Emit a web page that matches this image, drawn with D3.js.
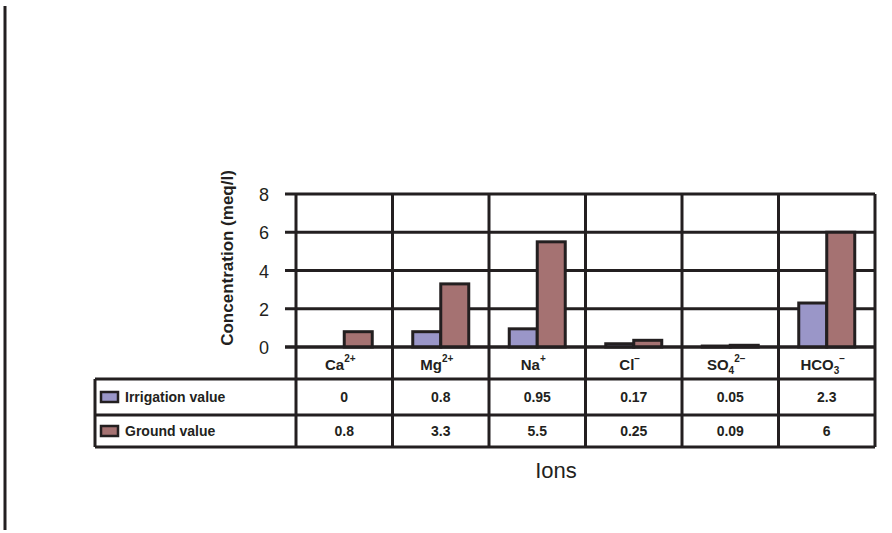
<!DOCTYPE html>
<html>
<head>
<meta charset="utf-8">
<script src="https://cdn.jsdelivr.net/npm/d3@7"></script>
<style>
  body { margin: 0; background: #fff; }
  text { font-family: "Liberation Sans", Arial, sans-serif; fill: #231f20; }
</style>
</head>
<body>
<div id="chart"></div>
<script>
(function(){
  var width = 892,
    height = 533;

  // ions, with their charge written as superscript
  var ions = ["Ca", "Mg", "Na", "Cl", "SO", "HCO"];
  var ionSub = ["", "", "", "", "4", "3"];
  var ionSup = ["2+", "2+", "+", "\u2212", "2\u2212", "\u2212"];

  var seriesNames = ["Irrigation value", "Ground value"];
  var irrigation = [0, 0.8, 0.95, 0.17, 0.05, 2.3];
  var ground = [0.8, 3.3, 5.5, 0.35, 0.09, 6];
  var irrigationLabels = ["0", "0.8", "0.95", "0.17", "0.05", "2.3"];
  var groundLabels = ["0.8", "3.3", "5.5", "0.25", "0.09", "6"];
  var yTicks = [0, 2, 4, 6, 8];

  var colors = ["#9a96c8", "#a57272"];
  var ink = "#231f20";

  var svg = d3.select("#chart")
    .append("svg")
    .attr("width", width)
    .attr("height", height);

  var x = d3.scaleBand().domain(ions).range([296, 875]);
  var y = d3.scaleLinear().domain([0, 8]).range([347, 194]);
  var barW = 28;

  // rows of the data table under the plot
  var rowTop = 347, rowCat = 379, rowIrr = 415, rowGround = 447;
  var tableLeft = 95;

  // thick rule on the far left
  svg.append("line")
    .attr("x1", 5).attr("x2", 5)
    .attr("y1", 6).attr("y2", 530)
    .attr("stroke", ink).attr("stroke-width", 3);

  // horizontal gridlines
  svg.selectAll(".grid")
    .data(yTicks)
    .enter().append("line")
    .attr("class", "grid")
    .attr("x1", 285)
    .attr("x2", x.range()[1])
    .attr("y1", function(d){ return y(d); })
    .attr("y2", function(d){ return y(d); })
    .attr("stroke", ink).attr("stroke-width", 3);

  // column lines (plot + table)
  var colEdges = ions.map(function(d){ return x(d); }).concat([x.range()[1]]);
  svg.selectAll(".col")
    .data(colEdges)
    .enter().append("line")
    .attr("class", "col")
    .attr("x1", function(d){ return d; })
    .attr("x2", function(d){ return d; })
    .attr("y1", y(8))
    .attr("y2", rowGround)
    .attr("stroke", ink).attr("stroke-width", 3);

  // y tick labels
  svg.selectAll(".ytick")
    .data(yTicks)
    .enter().append("text")
    .attr("class", "ytick")
    .attr("x", 264)
    .attr("y", function(d){ return y(d) + 7; })
    .attr("text-anchor", "middle")
    .attr("font-size", 18)
    .text(function(d){ return d; });

  svg.append("text")
    .attr("transform", "translate(233,258) rotate(-90)")
    .attr("text-anchor", "middle")
    .attr("font-size", 17)
    .attr("font-weight", "bold")
    .text("Concentration (meq/l)");

  // bars
  var groups = [irrigation, ground];
  groups.forEach(function(vals, si){
    svg.selectAll(".bar" + si)
      .data(vals)
      .enter().append("rect")
      .attr("class", "bar" + si)
      .attr("x", function(d, i){
        return x(ions[i]) + x.bandwidth() / 2 - (si === 0 ? barW : 0);
      })
      .attr("y", function(d){ return y(d); })
      .attr("width", barW)
      .attr("height", function(d){ return y(0) - y(d); })
      .attr("fill", colors[si])
      .attr("stroke", ink)
      .attr("stroke-width", 3);
  });

  // redraw base line over the bars
  svg.append("line")
    .attr("x1", 285).attr("x2", x.range()[1])
    .attr("y1", rowTop).attr("y2", rowTop)
    .attr("stroke", ink).attr("stroke-width", 3);

  // table horizontals
  [rowCat, rowIrr, rowGround].forEach(function(yy){
    svg.append("line")
      .attr("x1", tableLeft).attr("x2", x.range()[1])
      .attr("y1", yy).attr("y2", yy)
      .attr("stroke", ink).attr("stroke-width", 3);
  });
  svg.append("line")
    .attr("x1", tableLeft).attr("x2", tableLeft)
    .attr("y1", rowCat).attr("y2", rowGround)
    .attr("stroke", ink).attr("stroke-width", 3);

  // category labels
  var cat = svg.selectAll(".cat")
    .data(ions)
    .enter().append("text")
    .attr("class", "cat")
    .attr("x", function(d){ return x(d) + x.bandwidth() / 2 - 4; })
    .attr("y", 370)
    .attr("text-anchor", "middle")
    .attr("font-size", 15)
    .attr("font-weight", "bold");
  cat.append("tspan").text(function(d){ return d; });
  cat.append("tspan")
    .attr("font-size", 10)
    .attr("dy", 4)
    .text(function(d, i){ return ionSub[i]; });
  cat.append("tspan")
    .attr("font-size", 10)
    .attr("dy", function(d, i){ return ionSub[i] ? -12 : -8; })
    .text(function(d, i){ return ionSup[i]; });

  // table values
  [irrigationLabels, groundLabels].forEach(function(labels, si){
    var rowY = si === 0 ? (rowCat + rowIrr) / 2 : (rowIrr + rowGround) / 2;
    svg.selectAll(".val" + si)
      .data(labels)
      .enter().append("text")
      .attr("class", "val" + si)
      .attr("x", function(d, i){ return x(ions[i]) + x.bandwidth() / 2; })
      .attr("y", rowY + 5)
      .attr("text-anchor", "middle")
      .attr("font-size", 14)
      .attr("font-weight", "bold")
      .text(function(d){ return d; });

    svg.append("rect")
      .attr("x", 101)
      .attr("y", rowY - 5)
      .attr("width", 17)
      .attr("height", 10)
      .attr("fill", colors[si])
      .attr("stroke", ink)
      .attr("stroke-width", 2.5);

    svg.append("text")
      .attr("x", 125)
      .attr("y", rowY + 5)
      .attr("font-size", 14)
      .attr("font-weight", "bold")
      .text(seriesNames[si]);
  });

  svg.append("text")
    .attr("x", 556)
    .attr("y", 478)
    .attr("text-anchor", "middle")
    .attr("font-size", 22)
    .text("Ions");
})();
</script>
</body>
</html>
